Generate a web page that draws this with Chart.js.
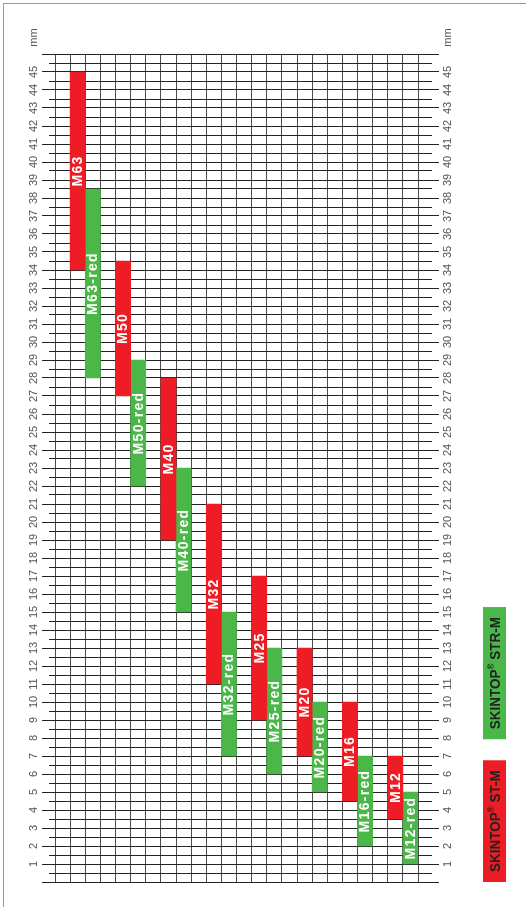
<!DOCTYPE html>
<html>
<head>
<meta charset="utf-8">
<script src="https://cdn.jsdelivr.net/npm/chart.js@4.4.1/dist/chart.umd.min.js"></script>
<style>
  body { margin: 0; background: #fff; }
  #wrap { position: relative; width: 526px; height: 907px; overflow: hidden; }
  #frame { position: absolute; left: 3px; top: 3px; right: -10px; bottom: -10px; border-left: 1px solid #9a9a9a; border-top: 1px solid #9a9a9a; }
  canvas { position: absolute; left: 0; top: 0; }
</style>
</head>
<body>
<div id="wrap">
  <div id="frame"></div>
  <canvas id="chart" width="526" height="907"></canvas>
</div>
<script>
const sizes = ['M63', 'M50', 'M40', 'M32', 'M25', 'M20', 'M16', 'M12'];
// clamping range, standard gland (ST-M), mm
const stFrom = [34, 27, 19, 11, 9, 7, 4.5, 3.5];
const stTo   = [45, 34.5, 28, 21, 17, 13, 10, 7];
// clamping range, reduced gland (STR-M), mm
const strFrom = [28, 22, 15, 7, 6, 5, 2, 1];
const strTo   = [38.5, 29, 23, 15, 13, 10, 7, 5];

const seriesNames = ['SKINTOP® ST-M', 'SKINTOP® STR-M'];
const mmMin = 0;
const mmMax = 46;
const mmLabelFrom = 1;
const mmLabelTo = 45;
const axisUnit = 'mm';

const RED = '#ee1d25';
const GREEN = '#4cb749';

// one column per gland, an empty column between sizes
let columns = [''];
let redData = [null];
let greenData = [null];
sizes.forEach((s, i) => {
    columns.push(s, s + '-red');
    redData.push([stFrom[i], stTo[i]], null);
    greenData.push(null, [strFrom[i], strTo[i]]);
    if (i < sizes.length - 1) {
        columns.push('');
        redData.push(null);
        greenData.push(null);
    }
});

function rotatedText(ctx, text, x, y) {
    ctx.save();
    ctx.translate(x, y);
    ctx.rotate(-Math.PI / 2);
    ctx.fillText(text, 0, 0);
    ctx.restore();
}

// mm scale on both sides, lines run out past the grid
const mmAxis = {
    id: 'mmAxis',
    afterDraw(chart) {
        const ctx = chart.ctx;
        const y = chart.scales.y;
        const area = chart.chartArea;
        ctx.save();
        ctx.strokeStyle = '#222';
        ctx.lineWidth = 1;
        y.ticks.forEach(t => {
            const py = Math.round(y.getPixelForValue(t.value) - 0.5) + 0.5;
            const whole = Number.isInteger(t.value);
            ctx.beginPath();
            ctx.moveTo(area.left - (whole ? 13 : 6), py);
            ctx.lineTo(area.left, py);
            ctx.moveTo(area.right, py);
            ctx.lineTo(area.right + (whole ? 21 : 14), py);
            ctx.stroke();
        });

        ctx.fillStyle = '#555';
        ctx.font = '11px "Liberation Sans", Arial, sans-serif';
        ctx.textAlign = 'center';
        ctx.textBaseline = 'middle';
        y.ticks.forEach(t => {
            if (!Number.isInteger(t.value) || t.value < mmLabelFrom || t.value > mmLabelTo) return;
            const py = y.getPixelForValue(t.value);
            rotatedText(ctx, String(t.value), area.left - 21, py);
            rotatedText(ctx, String(t.value), area.right + 30, py);
        });
        const unitY = y.getPixelForValue(mmMax) - 16.5;
        rotatedText(ctx, axisUnit, area.left - 21, unitY);
        rotatedText(ctx, axisUnit, area.right + 30, unitY);
        ctx.restore();
    }
};

// gland names written along the bars
const barNames = {
    id: 'barNames',
    afterDatasetsDraw(chart) {
        const ctx = chart.ctx;
        ctx.save();
        ctx.fillStyle = '#fff';
        ctx.font = 'bold 14px "Liberation Sans", Arial, sans-serif';
        ctx.letterSpacing = '1.3px';
        ctx.textAlign = 'center';
        ctx.textBaseline = 'middle';
        chart.data.datasets.forEach((ds, di) => {
            chart.getDatasetMeta(di).data.forEach((bar, i) => {
                if (!ds.data[i]) return;
                rotatedText(ctx, chart.data.labels[i], bar.x + 0.5, (bar.y + bar.base) / 2);
            });
        });
        ctx.restore();
    }
};

// upright legend boxes at the lower right
const sideLegend = {
    id: 'sideLegend',
    afterDraw(chart) {
        const ctx = chart.ctx;
        const left = 483, w = 23, squeeze = 0.9;
        let bottom = chart.chartArea.bottom;
        const big = 'bold 15px "Liberation Sans", Arial, sans-serif';
        const small = 'bold 9px "Liberation Sans", Arial, sans-serif';
        ctx.save();
        chart.data.datasets.forEach(ds => {
            const parts = ds.label.split('®');
            ctx.font = big;
            const w1 = ctx.measureText(parts[0]).width;
            const w3 = ctx.measureText(parts[1]).width;
            ctx.font = small;
            const w2 = ctx.measureText('®').width;
            const textLen = (w1 + w2 + w3) * squeeze;
            const len = textLen + 20;

            ctx.fillStyle = ds.backgroundColor;
            ctx.fillRect(left, bottom - len, w, len);

            ctx.save();
            ctx.translate(left + w / 2 + 0.5, bottom - (len - textLen) / 2);
            ctx.rotate(-Math.PI / 2);
            ctx.scale(squeeze, 1);
            ctx.fillStyle = '#222';
            ctx.textBaseline = 'middle';
            ctx.textAlign = 'left';
            ctx.font = big;
            ctx.fillText(parts[0], 0, 1);
            ctx.font = small;
            ctx.fillText('®', w1, -3);
            ctx.font = big;
            ctx.fillText(parts[1], w1 + w2, 1);
            ctx.restore();

            bottom -= len + 21;
        });
        ctx.restore();
    }
};

new Chart(document.getElementById('chart'), {
    type: 'bar',
    data: {
        labels: columns,
        datasets: [
            { label: seriesNames[0], data: redData, backgroundColor: RED },
            { label: seriesNames[1], data: greenData, backgroundColor: GREEN }
        ]
    },
    options: {
        responsive: false,
        animation: false,
        devicePixelRatio: 1,
        layout: { padding: { left: 55, right: 108, top: 54, bottom: 25 } },
        datasets: {
            bar: { grouped: false, barPercentage: 1, categoryPercentage: 1, borderWidth: 0 }
        },
        plugins: {
            legend: { display: false },
            tooltip: { enabled: false }
        },
        scales: {
            x: {
                grid: { offset: true, color: '#4a4a4a', lineWidth: 1, drawTicks: false },
                border: { display: false },
                ticks: { display: false },
                afterFit(s) { s.height = 0; }
            },
            y: {
                min: mmMin,
                max: mmMax,
                grid: { color: '#222', lineWidth: 1, drawTicks: false },
                border: { display: false },
                ticks: { display: false },
                afterBuildTicks(s) {
                    const ticks = [];
                    for (let v = mmMin; v <= mmMax; v += 0.5) ticks.push({ value: v });
                    s.ticks = ticks;
                },
                afterFit(s) { s.width = 0; }
            }
        }
    },
    plugins: [mmAxis, barNames, sideLegend]
});
</script>
</body>
</html>
